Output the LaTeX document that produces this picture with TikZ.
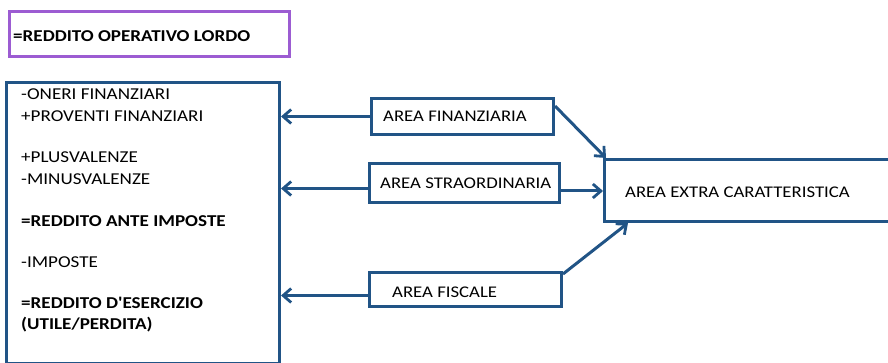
\documentclass[tikz,border=0pt]{standalone}
\usepackage{fontspec}
\newfontfamily\carl{Carlito}[FakeStretch=1.15]
\usetikzlibrary{arrows.meta}
\definecolor{lineblue}{RGB}{33,84,134}
\definecolor{boxpurple}{RGB}{156,92,210}
\tikzset{
  bluebox/.style={draw=lineblue, line width=3pt, fill=white, inner sep=0pt, anchor=north west},
  areatext/.style={anchor=west, inner sep=0pt, font=\carl\fontsize{16.3}{18}\selectfont},
  conn/.style={draw=lineblue, line width=3pt, -{Straight Barb[length=8pt,width=14pt,line width=2.8pt]}},
  lefttext/.style={anchor=base west, inner sep=0pt, font=\carl\fontsize{16.6}{19}\selectfont},
  leftbold/.style={lefttext, font=\carl\fontsize{16.6}{19}\selectfont\bfseries},
}
\begin{document}
\begin{tikzpicture}[x=1pt,y=-1pt]
\useasboundingbox (0,0) rectangle (888,363);
\clip (0,0) rectangle (888,363);
% top purple box
\node[draw=boxpurple, line width=3pt, anchor=north west, minimum width=280pt, minimum height=45pt, inner sep=0pt] (rol) at (8,10) {};
\node[leftbold] (roltxt) at (13,42) {=REDDITO OPERATIVO LORDO};
% left box
\node[bluebox, minimum width=273pt, minimum height=280pt] (conto) at (5,81.5) {};
\node[lefttext] (t1) at (21,100) {-ONERI FINANZIARI};
\node[lefttext] (t2) at (21,122) {+PROVENTI FINANZIARI};
\node[lefttext] (t3) at (21,163) {+PLUSVALENZE};
\node[lefttext] (t4) at (21,185) {-MINUSVALENZE};
\node[leftbold] (t5) at (21,227) {=REDDITO ANTE IMPOSTE};
\node[lefttext] (t6) at (21,268) {-IMPOSTE};
\node[leftbold] (t7) at (21,308) {=REDDITO D'ESERCIZIO};
\node[leftbold] (t8) at (21,329) {(UTILE/PERDITA)};
% area boxes
\node[bluebox, minimum width=182pt, minimum height=36pt] (fin) at (370,97) {};
\node[areatext] (fintxt) at ([xshift=13pt]fin.west) {AREA FINANZIARIA};
\node[bluebox, minimum width=190pt, minimum height=39pt] (stra) at (368,162) {};
\node[areatext] (stratxt) at ([xshift=12pt]stra.west) {AREA STRAORDINARIA};
\node[bluebox, minimum width=192pt, minimum height=34pt] (fisc) at (368,271) {};
\node[areatext] (fisctxt) at ([xshift=24pt,yshift=-3pt]fisc.west) {AREA FISCALE};
\node[bluebox, minimum width=300pt, minimum height=62pt] (extra) at (603,158) {};
\node[areatext] (extratxt) at ([xshift=22pt,yshift=-2pt]extra.west) {AREA EXTRA CARATTERISTICA};
% connector end points
\coordinate (straL) at ([yshift=-5.5pt]stra.west);
\coordinate (straR) at ([yshift=-8pt]stra.east);
\coordinate (fiscL) at ([yshift=-6pt]fisc.west);
% connectors
\draw[conn] (fin.west) -- (conto.east |- fin.west);
\draw[conn] (straL) -- (conto.east |- straL);
\draw[conn] (fiscL) -- (conto.east |- fiscL);
\draw[conn] ([yshift=-9pt]fin.north east) -- ([xshift=3pt]extra.north west);
\draw[conn] (straR) -- (extra.west |- straR);
\draw[conn] ([yshift=-3pt]fisc.north east) -- ([xshift=25pt]extra.south west);
\end{tikzpicture}
\end{document}
